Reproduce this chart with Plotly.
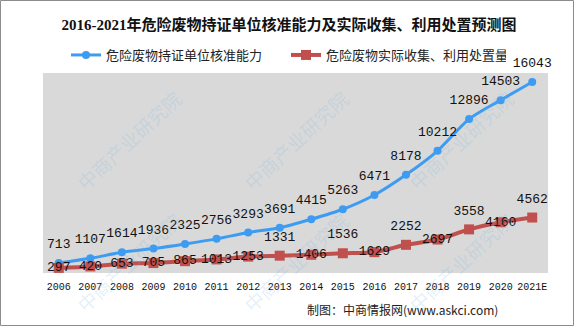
import plotly.graph_objects as go

# Years and the two series (unit: 万吨)
years = ["2006", "2007", "2008", "2009", "2010", "2011", "2012", "2013",
         "2014", "2015", "2016", "2017", "2018", "2019", "2020", "2021E"]
capacity = [713, 1107, 1614, 1936, 2325, 2756, 3293, 3691,
            4415, 5263, 6471, 8178, 10212, 12896, 14503, 16043]
disposal = [297, 420, 653, 705, 865, 1013, 1253, 1331,
            1406, 1536, 1629, 2252, 2697, 3558, 4160, 4562]

name_capacity = "危险废物持证单位核准能力"
name_disposal = "危险废物实际收集、利用处置量"
title_text = "2016-2021年危险废物持证单位核准能力及实际收集、利用处置预测图"
source_text = "制图：中商情报网(www.askci.com)"
watermark_text = "中商产业研究院"

BLUE = "#3d9cf2"
RED = "#c0504d"
CJK = "Noto Sans CJK SC"
LABEL_FONT = dict(family="Liberation Mono", size=13, color="#111111")

# plot area geometry (pixels)
W, H = 575, 326
ML, MR, MT, MB = 43, 27, 73, 53
PW, PH = W - ML - MR, H - MT - MB

fig = go.Figure()

fig.add_trace(go.Scatter(
    x=years, y=capacity, name=name_capacity, mode="lines+markers",
    line=dict(color=BLUE, width=3, shape="spline", smoothing=0.8),
    marker=dict(symbol="circle", size=8, color=BLUE),
))
fig.add_trace(go.Scatter(
    x=years, y=disposal, name=name_disposal, mode="lines+markers",
    line=dict(color=RED, width=4, shape="spline", smoothing=0.8),
    marker=dict(symbol="square", size=10, color=RED),
))

# value labels (invisible markers set the distance of the text from the point)
fig.add_trace(go.Scatter(
    x=years, y=capacity, mode="markers+text", text=[str(v) for v in capacity],
    textposition="top center", textfont=LABEL_FONT, cliponaxis=False,
    marker=dict(size=17, opacity=0), showlegend=False, hoverinfo="skip",
))
red_pos = ["middle center"] * 7 + ["top center", "middle center"] * 4 + ["top center"]
fig.add_trace(go.Scatter(
    x=years, y=disposal, mode="markers+text", text=[str(v) for v in disposal],
    textposition=red_pos, textfont=LABEL_FONT, cliponaxis=False,
    marker=dict(size=17, opacity=0), showlegend=False, hoverinfo="skip",
))


def px_x(p):
    return (p - ML) / PW


def px_y(p):
    return (H - MB - p) / PH


annotations = []
# faint diagonal watermark tiles
for cy in (140, 262):
    for cx in (128, 295, 460):
        annotations.append(dict(
            x=px_x(cx), y=px_y(cy), xref="paper", yref="paper",
            xanchor="center", yanchor="middle",
            text=watermark_text, showarrow=False, textangle=-43,
            font=dict(family=CJK, size=19, color="rgba(120,180,225,0.2)"),
        ))

annotations.append(dict(
    x=px_x(402), y=px_y(309), xref="paper", yref="paper",
    xanchor="center", yanchor="middle",
    text=source_text, showarrow=False,
    font=dict(family=CJK, size=12, color="#222222"),
))

fig.update_layout(
    width=W, height=H,
    margin=dict(l=ML, r=MR, t=MT, b=MB, pad=0),
    paper_bgcolor="white", plot_bgcolor="#d9d9d9",
    title=dict(text="<b>" + title_text + "</b>", x=289 / W, xanchor="center",
               y=1 - 25 / H, yanchor="middle",
               font=dict(family="Liberation Serif, " + CJK, size=15, color="#111111")),
    legend=dict(orientation="h", x=px_x(66), xanchor="left", y=px_y(55), yanchor="middle",
                font=dict(family=CJK, size=13, color="#222222"),
                bgcolor="rgba(0,0,0,0)", itemwidth=30,
                entrywidth=175, entrywidthmode="pixels"),
    showlegend=True,
    annotations=annotations,
    shapes=[dict(type="rect", xref="paper", yref="paper",
                 x0=px_x(0.5), x1=px_x(573.5), y0=px_y(325.5), y1=px_y(0.5),
                 line=dict(color="#8c8c8c", width=1), layer="above")],
)

fig.update_xaxes(
    type="category", range=[-0.5, 15.5], showgrid=False, zeroline=False,
    showline=False, ticks="", ticklabelstandoff=6,
    tickfont=dict(family="Liberation Mono", size=10, color="#111111"),
)
fig.update_yaxes(
    range=[-135, 16800], showgrid=False, zeroline=False, showline=False,
    showticklabels=False, ticks="",
)

fig.write_html("out.html")
